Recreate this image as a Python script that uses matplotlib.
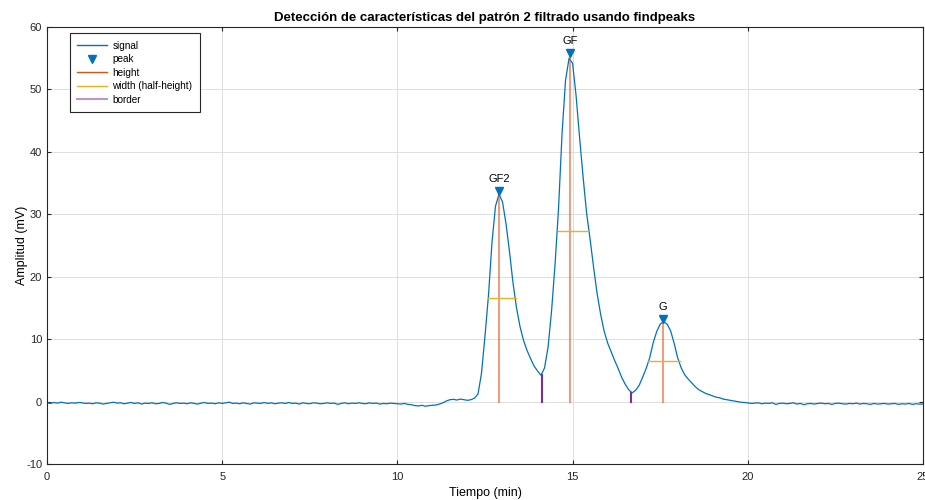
import numpy as np
import matplotlib
matplotlib.use("Agg")
import matplotlib.pyplot as plt
from matplotlib.lines import Line2D

plt.rcParams["font.family"] = ["Liberation Sans", "DejaVu Sans"]
plt.rcParams["axes.unicode_minus"] = False

# tiempo (min), paso de 0.1
tiempo = np.round(np.arange(0, 25.01, 0.1), 2)

# señal filtrada (mV)
senal = [
    -0.2, -0.3, -0.15, -0.25, -0.1, -0.2, -0.3, -0.2, -0.25, -0.15,
    -0.2, -0.3, -0.25, -0.35, -0.2, -0.25, -0.4, -0.3, -0.2, -0.1,
    -0.25, -0.2, -0.35, -0.25, -0.15, -0.3, -0.2, -0.4, -0.25, -0.3,
    -0.2, -0.35, -0.3, -0.15, -0.25, -0.45, -0.3, -0.2, -0.3, -0.25,
    -0.35, -0.2, -0.3, -0.4, -0.25, -0.15, -0.3, -0.25, -0.35, -0.2,
    -0.3, -0.2, -0.1, -0.3, -0.25, -0.35, -0.2, -0.3, -0.4, -0.2,
    -0.25, -0.3, -0.15, -0.3, -0.2, -0.35, -0.25, -0.2, -0.3, -0.15,
    -0.3, -0.25, -0.4, -0.2, -0.3, -0.35, -0.2, -0.25, -0.35, -0.3,
    -0.2, -0.3, -0.25, -0.45, -0.3, -0.2, -0.35, -0.25, -0.3, -0.2,
    -0.3, -0.35, -0.2, -0.3, -0.25, -0.4, -0.3, -0.35, -0.25, -0.3,
    -0.35, -0.4, -0.3, -0.45, -0.5, -0.65, -0.7, -0.6, -0.75, -0.65,
    -0.6, -0.55, -0.4, -0.2, 0.1, 0.3, 0.35, 0.25, 0.4, 0.3,
    0.2, 0.3, 0.55, 1.2, 4.5, 10.5, 17.0, 25.5, 31.3, 33.2,
    32.0, 28.5, 24.0, 19.0, 15.0, 12.0, 9.8, 8.2, 6.9, 5.7,
    4.9, 4.2, 5.4, 8.7, 14.5, 22.0, 31.0, 43.0, 51.5, 55.0,
    54.2, 49.0, 42.3, 36.0, 30.2, 26.0, 21.5, 17.3, 14.0, 11.3,
    9.4, 8.0, 6.6, 5.3, 3.9, 2.8, 1.9, 1.4, 1.8, 2.6,
    3.9, 5.3, 7.0, 9.4, 11.2, 12.4, 12.8, 12.4, 11.3, 9.3,
    7.0, 5.4, 4.3, 3.6, 3.0, 2.4, 1.9, 1.6, 1.3, 1.1,
    0.9, 0.7, 0.6, 0.4, 0.3, 0.2, 0.1, 0.0, -0.1, -0.15,
    -0.2, -0.3, -0.25, -0.2, -0.35, -0.25, -0.3, -0.2, -0.45, -0.3,
    -0.25, -0.35, -0.3, -0.2, -0.4, -0.3, -0.5, -0.35, -0.3, -0.4,
    -0.3, -0.25, -0.35, -0.3, -0.45, -0.3, -0.25, -0.35, -0.4, -0.3,
    -0.35, -0.25, -0.4, -0.3, -0.35, -0.45, -0.3, -0.4, -0.35, -0.3,
    -0.4, -0.35, -0.3, -0.45, -0.35, -0.4, -0.3, -0.45, -0.35, -0.4,
    -0.4,
]

# picos detectados
pico_nombres = ["GF2", "GF", "G"]
pico_t = [12.9, 14.94, 17.58]
pico_amp = [33.3, 55.3, 12.8]

# ancho a media altura
ancho_ini = [12.59, 14.58, 17.15]
ancho_fin = [13.38, 15.44, 18.07]
ancho_y = [16.6, 27.4, 6.5]

# bordes entre picos
borde_t = [14.12, 16.68]
borde_amp = [4.2, 1.4]

azul = "#0072BD"
naranja = "#D95319"
amarillo = "#EDB120"
morado = "#7E2F8E"

fig = plt.figure(figsize=(9.25, 5), dpi=100)
ax = fig.add_axes([0.0508, 0.072, 0.947, 0.874])

ax.plot(tiempo, senal, color=azul, lw=0.9)

for t, a in zip(pico_t, pico_amp):
    ax.plot([t, t], [0, a], color=naranja, alpha=0.55, lw=1.5)
for x0, x1, y in zip(ancho_ini, ancho_fin, ancho_y):
    ax.plot([x0, x1], [y, y], color=amarillo, lw=1.0)
for t, a in zip(borde_t, borde_amp):
    ax.plot([t, t], [0, a], color=morado, lw=1.5)

ax.plot(pico_t, [a + 0.5 for a in pico_amp], "v", color=azul, ms=6)
for n, t, a in zip(pico_nombres, pico_t, pico_amp):
    ax.text(t, a + 1.6, n, ha="center", va="bottom", fontsize=8)

ax.set_xlim(0, 25)
ax.set_ylim(-10, 60)
ax.set_xticks(range(0, 26, 5))
ax.set_yticks(range(-10, 61, 10))
ax.tick_params(direction="in", top=True, right=True, labelsize=8,
               colors="#262626", length=3)
ax.tick_params(axis="x", pad=5.5)
ax.grid(True, color="#DEDEDE", lw=0.7)
ax.set_axisbelow(True)
for s in ax.spines.values():
    s.set_color("#262626")
    s.set_linewidth(0.8)

ax.set_xlabel("Tiempo (min)", fontsize=9, labelpad=4.2)
ax.set_ylabel("Amplitud (mV)", fontsize=9, labelpad=-1.6)
ax.set_title("Detección de características del patrón 2 filtrado usando findpeaks",
             fontsize=9.5, fontweight="bold", pad=4)

handles = [
    Line2D([], [], color=azul, lw=1),
    Line2D([], [], color=azul, marker="v", ls="none", ms=6),
    Line2D([], [], color=naranja, lw=1),
    Line2D([], [], color=amarillo, lw=1),
    Line2D([], [], color=morado, alpha=0.5, lw=1.5),
]
etiquetas = ["signal", "peak", "height", "width (half-height)", "border"]
leg = ax.legend(handles, etiquetas, loc="upper left", bbox_to_anchor=(0.026, 0.986),
                borderaxespad=0, fontsize=7.2, fancybox=False, edgecolor="#262626",
                framealpha=1, handlelength=3.0, handletextpad=0.5,
                labelspacing=0.35, borderpad=0.75)
leg.get_frame().set_linewidth(0.8)

fig.savefig("out.png", dpi=100)
